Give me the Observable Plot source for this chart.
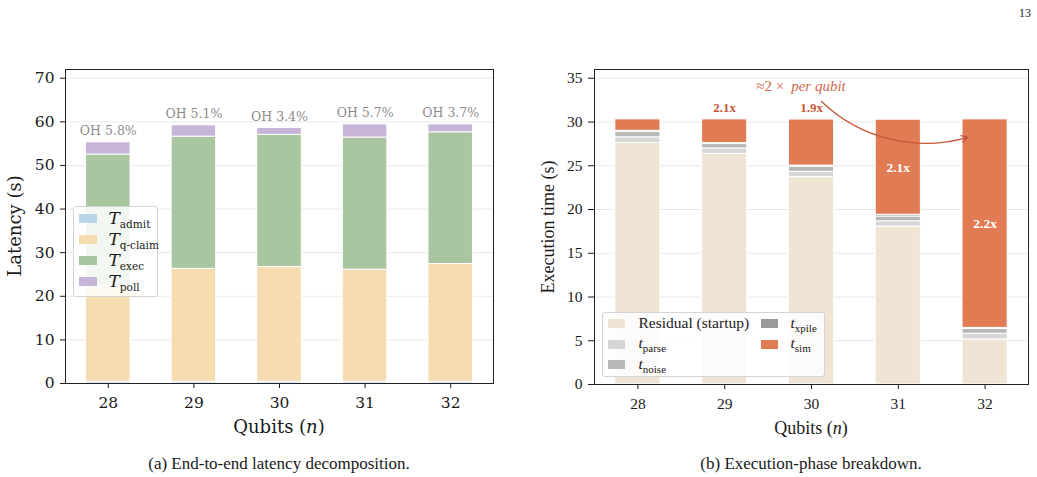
<!DOCTYPE html>
<html>
<head>
<meta charset="utf-8">
<script src="https://cdn.jsdelivr.net/npm/d3@7"></script>
<script src="https://cdn.jsdelivr.net/npm/@observablehq/plot@0.6"></script>
<style>
  html, body { margin: 0; padding: 0; background: #fff; }
  #fig { position: relative; width: 1037px; height: 477px; overflow: hidden; background: #fff; }
  #fig svg { position: absolute; top: 0; }
  .abs { position: absolute; white-space: nowrap; line-height: 1; color: #1a1a1a; }
  .cm { font-family: "DejaVu Serif", serif; }
  .tm { font-family: "Liberation Serif", "Times New Roman", serif; }
  .legend { position: absolute; border: 1px solid #d4d4d4; border-radius: 3px; background: rgba(255,255,255,0.85); box-sizing: border-box; }
  .sw { position: absolute; }
  .lt { position: absolute; white-space: nowrap; line-height: 1; color: #1a1a1a; }
  .lt sub { font-style: normal; vertical-align: baseline; position: relative; }
</style>
</head>
<body>
<div id="fig"></div>
<script>
// Qubit counts on the x axis
const qubits = [28, 29, 30, 31, 32];

// (a) End-to-end latency components (s)
const tAdmit  = [0.4, 0.4, 0.4, 0.4, 0.4];
const tQClaim = [21.9, 25.9, 26.3, 25.7, 27.0];
const tExec   = [30.2, 30.3, 30.3, 30.3, 30.2];
const tPoll   = [2.8, 2.6, 1.6, 3.0, 1.8];

// (b) Execution-phase components (s)
const residual = [27.6, 26.35, 23.7, 18.05, 5.15];
const tParse   = [0.65, 0.63, 0.6, 0.6, 0.65];
const tNoise   = [0.6, 0.5, 0.6, 0.55, 0.55];
const tXpile   = [0.15, 0.12, 0.12, 0.2, 0.12];
const tSim     = [1.3, 2.7, 5.26, 10.86, 23.83];

// Axis ticks
const latencyTicks = [0, 10, 20, 30, 40, 50, 60, 70];
const execTicks = [0, 5, 10, 15, 20, 25, 30, 35];

// Annotation anchors (data coordinates of panel b)
const growthNote = {x: 29.72, y: 34.05};
const growthArrow = {x1: 30.115, y1: 32.35, x2: 31.8, y2: 28.25};

const halfWidth = 0.26;
const fig = document.getElementById("fig");
const serifA = "'DejaVu Serif', serif";
const serifB = "'Liberation Serif', 'Times New Roman', serif";

function stackRows(parts) {
  const rows = [];
  qubits.forEach((n, i) => parts.forEach(p => rows.push({n, part: p.name, value: p.values[i]})));
  return rows;
}

// ---------- (a) latency decomposition ----------
const latencyParts = [
  {name: "admit",   values: tAdmit,  color: "#b9d5e7"},
  {name: "q-claim", values: tQClaim, color: "#f5ddb1"},
  {name: "exec",    values: tExec,   color: "#a9c6a1"},
  {name: "poll",    values: tPoll,   color: "#c6b4d9"}
];
const latencyRows = stackRows(latencyParts);
const latencyTotals = qubits.map((n, i) => {
  const total = tAdmit[i] + tQClaim[i] + tExec[i] + tPoll[i];
  return {n, total, oh: (tAdmit[i] + tPoll[i]) / total * 100};
});

const left = Plot.plot({
  width: 500, height: 440,
  marginLeft: 65, marginRight: 7, marginTop: 69, marginBottom: 57,
  style: {fontFamily: serifA, fontSize: "15.5px", color: "#1a1a1a", background: "transparent", overflow: "visible"},
  x: {type: "linear", domain: [27.5, 32.5], axis: null},
  y: {domain: [0, 72], axis: null},
  color: {domain: latencyParts.map(p => p.name), range: latencyParts.map(p => p.color)},
  marks: [
    Plot.gridY(latencyTicks, {stroke: "#e9e9e9", strokeOpacity: 1, strokeWidth: 1}),
    Plot.rect(latencyRows, Plot.stackY({
      x: "n", x1: d => d.n - halfWidth, x2: d => d.n + halfWidth,
      y: "value", fill: "part", stroke: "white", strokeWidth: 1
    })),
    Plot.text(latencyTotals, {
      x: "n", y: "total", text: d => `OH ${d.oh.toFixed(1)}%`,
      dy: -11, fill: "#8c8c8c", fontSize: 12.5, fontFamily: serifA
    }),
    Plot.axisY(latencyTicks, {tickSize: 5, tickPadding: 6, label: null}),
    Plot.axisX(qubits, {tickSize: 5, tickPadding: 8, tickFormat: d => d, label: null}),
    Plot.frame({stroke: "#222"})
  ]
});
left.style.left = "0px";
fig.appendChild(left);

// ---------- (b) execution-phase breakdown ----------
const execParts = [
  {name: "residual", values: residual, color: "#f0e5d4"},
  {name: "parse",    values: tParse,   color: "#d6d6d6"},
  {name: "noise",    values: tNoise,   color: "#b8b8b8"},
  {name: "xpile",    values: tXpile,   color: "#9a9a9a"},
  {name: "sim",      values: tSim,     color: "#e07b54"}
];
const execRows = stackRows(execParts);
const simLabels = qubits.slice(1).map((n, k) => {
  const i = k + 1;
  const total = residual[i] + tParse[i] + tNoise[i] + tXpile[i] + tSim[i];
  const base = total - tSim[i];
  return {n, ratio: tSim[i] / tSim[i - 1], total, mid: base + tSim[i] / 2, inside: tSim[i] > 8};
});
const accent = "#c8553a";

const right = Plot.plot({
  width: 517, height: 440,
  marginLeft: 74, marginRight: 9, marginTop: 69, marginBottom: 56,
  style: {fontFamily: serifB, fontSize: "15.5px", color: "#1a1a1a", background: "transparent", overflow: "visible"},
  x: {type: "linear", domain: [27.5, 32.5], axis: null},
  y: {domain: [0, 36], axis: null},
  color: {domain: execParts.map(p => p.name), range: execParts.map(p => p.color)},
  marks: [
    Plot.gridY(execTicks, {stroke: "#e9e9e9", strokeOpacity: 1, strokeWidth: 1}),
    Plot.rect(execRows, Plot.stackY({
      x: "n", x1: d => d.n - halfWidth, x2: d => d.n + halfWidth,
      y: "value", fill: "part", stroke: "white", strokeWidth: 1
    })),
    Plot.text(simLabels.filter(d => !d.inside), {
      x: "n", y: "total", text: d => `${d.ratio.toFixed(1)}x`,
      dy: -12, fill: accent, fontWeight: "bold", fontSize: 13, fontFamily: serifB
    }),
    Plot.text(simLabels.filter(d => d.inside), {
      x: "n", y: "mid", text: d => `${d.ratio.toFixed(1)}x`,
      fill: "white", fontWeight: "bold", fontSize: 13.5, fontFamily: serifB
    }),
    Plot.text([growthNote], {x: "x", y: "y", text: () => "≈2 ×", textAnchor: "end", dx: -3, fill: "#d2684b", fontSize: 15, fontFamily: serifB}),
    Plot.text([growthNote], {x: "x", y: "y", text: () => "per qubit", textAnchor: "start", dx: 4, fill: "#d2684b", fontSize: 15, fontStyle: "italic", fontFamily: serifB}),
    Plot.arrow([growthArrow], {x1: "x1", y1: "y1", x2: "x2", y2: "y2", bend: -30, stroke: accent, strokeWidth: 1.3, headLength: 8}),
    Plot.axisY(execTicks, {tickSize: 6, tickPadding: 6, label: null}),
    Plot.axisX(qubits, {tickSize: 5, tickPadding: 8, tickFormat: d => d, label: null}),
    Plot.frame({stroke: "#222"})
  ]
});
right.style.left = "520px";
fig.appendChild(right);

// ---------- axis titles, legends, captions ----------
function addText(html, cls, cx, cy, size, rotate) {
  const el = document.createElement("div");
  el.className = "abs " + cls;
  el.innerHTML = html;
  el.style.fontSize = size + "px";
  el.style.left = cx + "px";
  el.style.top = cy + "px";
  el.style.transform = "translate(-50%, -50%)" + (rotate ? " rotate(-90deg)" : "");
  fig.appendChild(el);
  return el;
}
addText("Latency (s)", "cm", 15, 226, 18, true);
addText("Qubits (<i>n</i>)", "cm", 279, 427, 18);
addText("Execution time (s)", "tm", 548, 227, 18, true);
addText("Qubits (<i>n</i>)", "tm", 811, 428, 18);
addText("(a) End-to-end latency decomposition.", "tm", 279, 463, 17);
addText("(b) Execution-phase breakdown.", "tm", 811, 463, 17);
addText("13", "tm", 1025, 13, 12);

function addLegend(box, items, fontCls, symSize) {
  const lg = document.createElement("div");
  lg.className = "legend";
  Object.assign(lg.style, {left: box.x + "px", top: box.y + "px", width: box.w + "px", height: box.h + "px"});
  items.forEach(it => {
    const sw = document.createElement("div");
    sw.className = "sw";
    Object.assign(sw.style, {left: it.sx + "px", top: (it.cy - it.sh / 2) + "px", width: it.sw + "px", height: it.sh + "px", background: it.color});
    lg.appendChild(sw);
    const t = document.createElement("div");
    t.className = "lt " + fontCls;
    t.innerHTML = it.label;
    Object.assign(t.style, {left: it.tx + "px", top: it.cy + "px", transform: "translateY(-55%)", fontSize: symSize + "px"});
    lg.appendChild(t);
  });
  fig.appendChild(lg);
}
const sym = (letter, sub, size, drop) =>
  `<i>${letter}</i><sub style="font-size:${size}px;top:${drop}px">${sub}</sub>`;

addLegend({x: 73, y: 206, w: 85, h: 91},
  latencyParts.map((p, i) => ({
    color: p.color, sx: 4.5, sw: 18, sh: 9.5, cy: 11.5 + i * 21, tx: 34.5,
    label: sym("T", p.name, 10.5, 4)
  })), "cm", 17);

const execLegend = [
  {color: execParts[0].color, col: 0, row: 0, label: "Residual (startup)"},
  {color: execParts[1].color, col: 0, row: 1, label: sym("t", "parse", 11, 4)},
  {color: execParts[2].color, col: 0, row: 2, label: sym("t", "noise", 11, 4)},
  {color: execParts[3].color, col: 1, row: 0, label: sym("t", "xpile", 11, 4)},
  {color: execParts[4].color, col: 1, row: 1, label: sym("t", "sim", 11, 4)}
];
addLegend({x: 602, y: 311.5, w: 223, h: 65},
  execLegend.map(it => ({
    color: it.color, sx: it.col ? 157.5 : 5, sw: 17, sh: 9, cy: 11 + it.row * 20.5,
    tx: it.col ? 187.5 : 35.5, label: it.label
  })), "tm", 15.5);
</script>
</body>
</html>
